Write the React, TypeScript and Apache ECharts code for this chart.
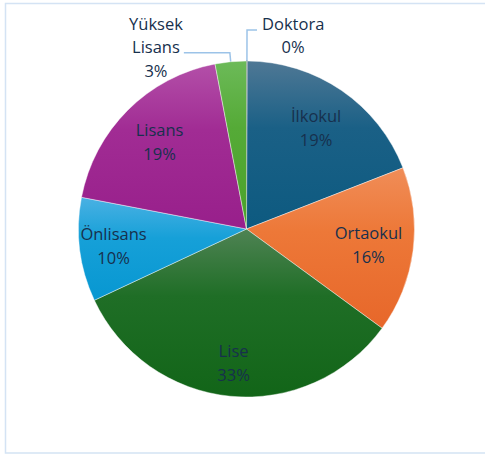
import React, { useEffect, useRef } from "react";
import * as echarts from "echarts";

// Data in Excel series order
const categories = ["İlkokul", "Ortaokul", "Lise", "Önlisans", "Lisans", "Yüksek Lisans", "Doktora"];
const shares = [19, 16, 33, 10, 19, 3, 0];
const percentLabels = ["19%", "16%", "33%", "10%", "19%", "3%", "0%"];

// gradient stops per slice (top -> bottom)
const palette: string[][] = [
  ["#4f7895", "#1a6086", "#0d5a80"],
  ["#f08d58", "#ed7838", "#e7672a"],
  ["#4f8354", "#1f6e26", "#126518"],
  ["#4ab1e3", "#16a0d8", "#0797d1"],
  ["#b34fa8", "#a12c94", "#981f8b"],
  ["#6cba58", "#55aa37", "#4aa22a"],
  ["#3d4a5c", "#3d4a5c", "#3d4a5c"],
];

const TEXT = "#17304d";
const FONT = "'Open Sans', 'Noto Sans', sans-serif";
const FS = 16.5;

export default function App() {
  const ref = useRef<HTMLDivElement>(null);
  useEffect(() => {
    if (!ref.current) return;
    const chart = echarts.init(ref.current, undefined, { renderer: "svg" });
    const R = 168;
    const center = [246.5, 229];
    // Doktora (0%) is placed first so its zero-width slice sits at 12 o'clock with its label to the right
    const order = [6, 0, 1, 2, 3, 4, 5];
    const outside = new Set([5, 6]);
    const nearLabels = new Set([0, 1, 4]);
    const farLabels = new Set([2, 3]);
    const MIN_ANGLE = 0.3;

    const mainData = order.map((i) => {
      const item: any = {
        name: categories[i],
        value: shares[i],
        itemStyle: {
          color: new echarts.graphic.LinearGradient(0, 0, 0, 1, [
            { offset: 0, color: palette[i][0] },
            { offset: 0.4, color: palette[i][1] },
            { offset: 1, color: palette[i][2] },
          ]),
          borderColor: i === 6 ? "#3d4a5c" : "rgba(255,255,255,0.7)",
          borderWidth: i === 6 ? 0.8 : 0.6,
        },
        label: { show: false },
        labelLine: { show: false },
      };
      if (outside.has(i)) {
        const lines = i === 5 ? ["Yüksek", "Lisans", percentLabels[i]] : [categories[i], percentLabels[i]];
        item.label = {
          show: true,
          position: "outside",
          formatter: lines.map((l) => `{c|${l}}`).join("\n"),
          distanceToLabelLine: i === 5 ? 1 : 5,
          padding: i === 5 ? [0, 0, 12, 0] : [10, 0, 0, 0],
          rich: { c: { align: "center", fontSize: FS, lineHeight: 23.5, color: TEXT, fontFamily: FONT } },
        };
        item.labelLine = {
          show: true,
          length: i === 5 ? 9 : 31,
          length2: i === 5 ? 46 : 10,
          smooth: false,
          lineStyle: { color: "#9cc3e8", width: 1.5 },
        };
      }
      return item;
    });

    const labelData = (set: Set<number>) =>
      order.map((i) => ({
        name: categories[i],
        value: shares[i],
        label: {
          show: set.has(i),
          formatter: `${categories[i]}\n${percentLabels[i]}`,
        },
      }));

    const labelSeries = (inner: number, set: Set<number>) => ({
      type: "pie",
      silent: true,
      center,
      radius: [inner, R],
      startAngle: 90,
      clockwise: true,
      minAngle: MIN_ANGLE,
      z: 5,
      itemStyle: { color: "rgba(0,0,0,0)", borderWidth: 0 },
      emphasis: { disabled: true },
      label: {
        position: "inside",
        fontSize: FS,
        lineHeight: 24,
        color: TEXT,
        fontFamily: FONT,
      },
      labelLine: { show: false },
      data: labelData(set),
    });

    chart.setOption({
      animation: false,
      backgroundColor: "#ffffff",
      graphic: [
        {
          type: "rect",
          z: -10,
          shape: { x: 5.5, y: 3.5, width: 520, height: 449.5 },
          style: { fill: "none", stroke: "#d4e3f4", lineWidth: 1.5 },
        },
      ],
      series: [
        {
          type: "pie",
          center,
          radius: [0, R],
          startAngle: 90,
          clockwise: true,
          minAngle: MIN_ANGLE,
          minShowLabelAngle: 0,
          avoidLabelOverlap: false,
          emphasis: { disabled: true },
          label: { alignTo: "none" },
          data: mainData,
        },
        labelSeries(72, nearLabels),
        labelSeries(94, farLabels),
      ],
    });
    return () => chart.dispose();
  }, []);
  return (
    <div
      ref={ref}
      style={{ position: "absolute", left: 0, top: 0, width: 485, height: 455 }}
    />
  );
}
